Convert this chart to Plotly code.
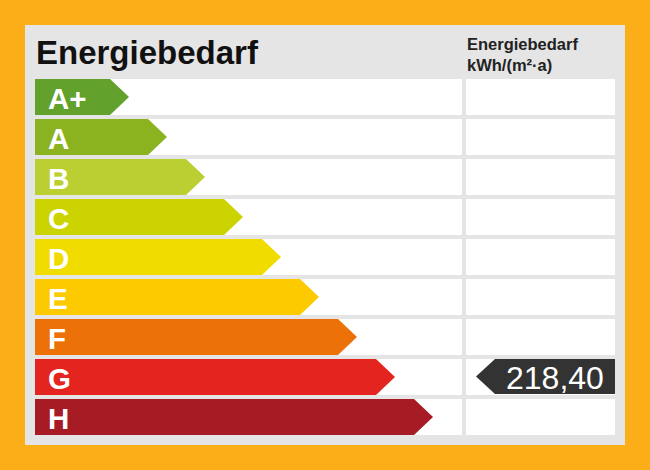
import plotly.graph_objects as go

# energy classes, top to bottom
classes = ["A+", "A", "B", "C", "D", "E", "F", "G", "H"]
class_colors = [
    "#62a12b", "#8bb31f", "#bbce32", "#cbd400", "#f1dc00",
    "#fdca00", "#eb7108", "#e3241f", "#a61b24",
]
value_class = "G"
value_label = "218,40"

title = "Energiebedarf"
unit_header = "Energiebedarf<br>kWh/(m²·a)"

# pixel layout (chart drawn on a 650x470 canvas)
W, H = 650, 470
row_top, row_step, row_h = 79, 40, 36
left_x0, left_x1 = 35, 462
right_x0, right_x1 = 466, 615
tip0, tip_step, tip_len = 129, 38, 19

fig = go.Figure()

shapes = [
    # grey panel
    dict(type="rect", x0=25, x1=625, y0=25, y1=445,
         fillcolor="#e5e5e5", line_width=0, layer="below"),
]
for i, c in enumerate(classes):
    y0 = row_top + i * row_step
    for x0, x1 in [(left_x0, left_x1), (right_x0, right_x1)]:
        shapes.append(dict(type="rect", x0=x0, x1=x1, y0=y0, y1=y0 + row_h,
                           fillcolor="white", line_width=0, layer="below"))

annotations = [
    dict(x=34, y=52, text=f"<b>{title}</b>", showarrow=False, xanchor="left",
         yanchor="middle", font=dict(size=33, color="#111111")),
    dict(x=465, y=54, text=f"<b>{unit_header}</b>", showarrow=False,
         xanchor="left", yanchor="middle", align="left",
         font=dict(size=16.5, color="#222222")),
]

# class arrows
for i, (c, col) in enumerate(zip(classes, class_colors)):
    y0 = row_top + i * row_step
    y1 = y0 + row_h
    ym = (y0 + y1) / 2
    tip = tip0 + i * tip_step
    fig.add_trace(go.Scatter(
        x=[left_x0, tip - tip_len, tip, tip - tip_len, left_x0, left_x0],
        y=[y0, y0, ym, y1, y1, y0],
        mode="lines", fill="toself", fillcolor=col, line=dict(width=0),
        hoverinfo="skip", showlegend=False,
    ))
    annotations.append(dict(
        x=46, y=ym + 1, text=f"<b>{c}</b>", showarrow=False, xanchor="left",
        yanchor="middle", font=dict(size=29.5, color="white"),
    ))

# value arrow
vi = classes.index(value_class)
vy0 = row_top + vi * row_step
vy1 = vy0 + row_h - 1
vym = (vy0 + vy1) / 2
fig.add_trace(go.Scatter(
    x=[right_x1, 495, 476, 495, right_x1, right_x1],
    y=[vy0, vy0, vym, vy1, vy1, vy0],
    mode="lines", fill="toself", fillcolor="#333333",
    line=dict(width=0), hoverinfo="skip", showlegend=False,
))
annotations.append(dict(
    x=606, y=vym + 1, text=value_label, showarrow=False, xanchor="right",
    yanchor="middle", font=dict(size=32, color="white"),
))

fig.update_layout(
    width=W, height=H,
    margin=dict(l=0, r=0, t=0, b=0),
    paper_bgcolor="#fbae17", plot_bgcolor="#fbae17",
    font=dict(family="Liberation Sans, Arial, sans-serif"),
    shapes=shapes, annotations=annotations,
    xaxis=dict(range=[0, W], visible=False, fixedrange=True),
    yaxis=dict(range=[H, 0], visible=False, fixedrange=True),
)

fig.write_html(
    "out.html",
    config={"displayModeBar": False},
    post_script="document.body.style.margin='0';",
)
